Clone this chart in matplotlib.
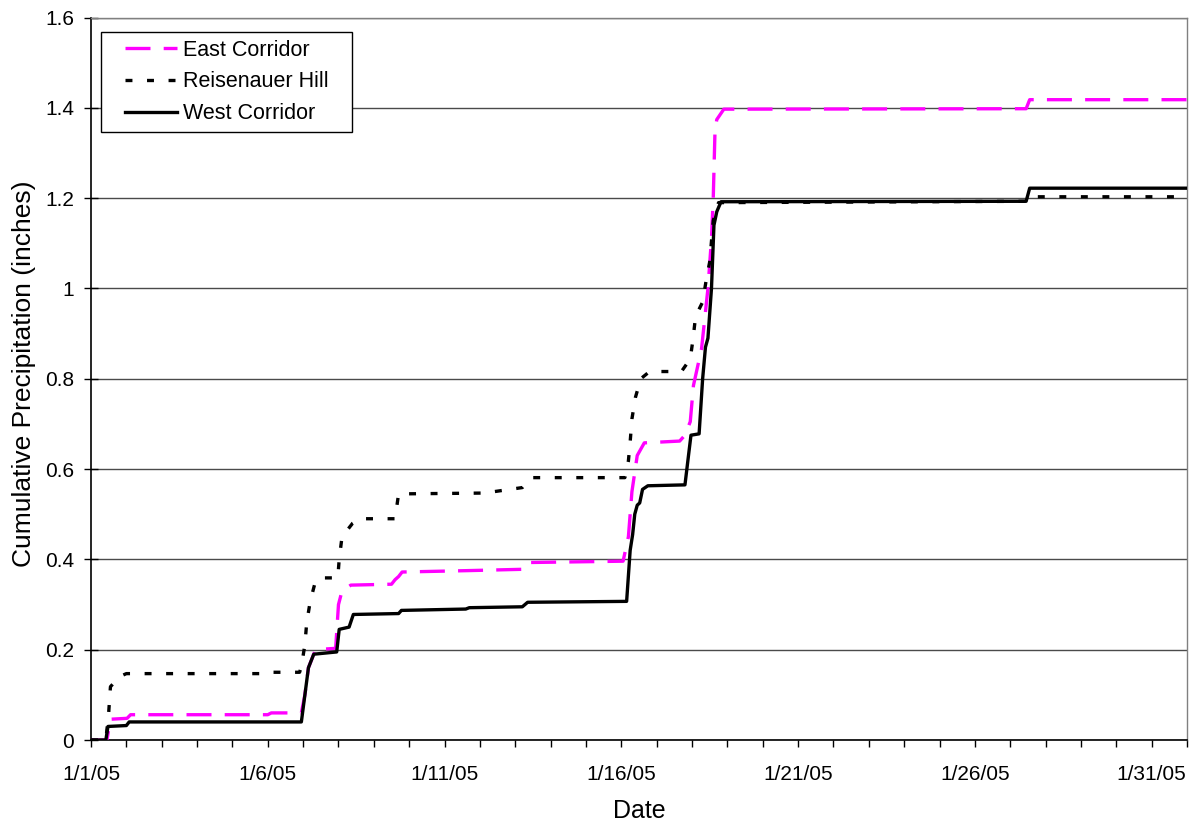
import matplotlib
matplotlib.use("Agg")
import matplotlib.pyplot as plt
import matplotlib.dates as mdates
from matplotlib.legend_handler import HandlerLine2D
import numpy as np
import pandas as pd

# Data: days elapsed since 2005-01-01 00:00, cumulative precipitation (inches)
west_days = [0, 0.42, 0.48, 1.0, 1.08, 5.95, 6.05, 6.15, 6.3, 6.95, 7.02, 7.3, 7.42,
             8.7, 8.78, 10.6, 10.7, 12.2, 12.35, 15.15, 15.25, 15.32, 15.38, 15.45,
             15.52, 15.6, 15.75, 16.8, 16.9, 16.97, 17.2, 17.3, 17.38, 17.45, 17.55,
             17.62, 17.7, 17.82, 26.45, 26.55, 31.0]
west_vals = [0, 0, 0.03, 0.032, 0.04, 0.04, 0.10, 0.16, 0.19, 0.195, 0.245, 0.25, 0.278,
             0.28, 0.287, 0.29, 0.293, 0.295, 0.305, 0.307, 0.42, 0.455, 0.50, 0.52,
             0.525, 0.555, 0.563, 0.565, 0.63, 0.675, 0.678, 0.80, 0.87, 0.89, 1.00,
             1.14, 1.17, 1.192, 1.193, 1.222, 1.222]

east_days = [0, 0.45, 0.55, 1.02, 1.12, 5.0, 5.1, 5.95, 6.05, 6.15, 6.35, 6.92, 7.0,
             7.1, 7.35, 8.5, 8.6, 8.7, 8.8, 10.6, 12.2, 12.35, 15.05, 15.2, 15.3, 15.45,
             15.65, 16.65, 16.8, 16.95, 17.04, 17.27, 17.45, 17.55, 17.6, 17.65, 17.7,
             17.9, 26.45, 26.55, 31.0]
east_vals = [0, 0, 0.046, 0.048, 0.056, 0.056, 0.06, 0.06, 0.10, 0.16, 0.20, 0.203, 0.30,
             0.33, 0.343, 0.345, 0.355, 0.362, 0.372, 0.375, 0.378, 0.393, 0.396, 0.45,
             0.55, 0.63, 0.658, 0.662, 0.675, 0.705, 0.785, 0.867, 1.00, 1.11, 1.20,
             1.35, 1.374, 1.397, 1.398, 1.418, 1.418]

reis_days = [0, 0.42, 0.5, 0.55, 0.8, 1.0, 4.95, 5.05, 5.9, 5.95, 6.05, 6.1, 6.2, 6.35,
             6.5, 6.98, 7.02, 7.1, 7.4, 7.6, 8.6, 8.7, 11.3, 11.4, 12.2, 12.45, 15.1,
             15.2, 15.25, 15.3, 15.4, 15.55, 15.8, 16.7, 16.95, 17.03, 17.1, 17.3, 17.4,
             17.5, 17.6, 17.75, 26.45, 26.55, 31.0]
reis_vals = [0, 0, 0.06, 0.118, 0.14, 0.147, 0.147, 0.15, 0.15, 0.163, 0.211, 0.259, 0.307,
             0.352, 0.359, 0.359, 0.40, 0.45, 0.48, 0.49, 0.49, 0.545, 0.547, 0.55, 0.559,
             0.581, 0.581, 0.618, 0.66, 0.711, 0.759, 0.80, 0.816, 0.816, 0.844, 0.889,
             0.938, 0.97, 1.018, 1.059, 1.15, 1.19, 1.193, 1.203, 1.203]

series_names = ["East Corridor", "Reisenauer Hill", "West Corridor"]
y_ticks = [0, 0.2, 0.4, 0.6, 0.8, 1.0, 1.2, 1.4, 1.6]
y_tick_labels = ["0", "0.2", "0.4", "0.6", "0.8", "1", "1.2", "1.4", "1.6"]
x_tick_labels = ["1/1/05", "1/6/05", "1/11/05", "1/16/05", "1/21/05", "1/26/05", "1/31/05"]

start = pd.Timestamp("2005-01-01")


def to_dates(days):
    return [start + pd.Timedelta(days=d) for d in days]


plt.rcParams['font.family'] = ['Liberation Sans', 'DejaVu Sans']
plt.rcParams['lines.scale_dashes'] = False

LEG_FS = 15.5
LINE_LEN = 2.41 * LEG_FS   # drawn handle length in points


class RightHandler(HandlerLine2D):
    """Draw the legend line only in the right part of the handle box."""
    def create_artists(self, legend, orig_handle, xdescent, ydescent, width,
                       height, fontsize, trans):
        arts = super().create_artists(legend, orig_handle, xdescent, ydescent,
                                      width, height, fontsize, trans)
        for a in arts:
            xd = np.asarray(a.get_xdata(), float)
            if len(xd) >= 2:
                a.set_xdata(np.linspace(xd[-1] - LINE_LEN, xd[-1], len(xd)))
        return arts


fig = plt.figure(figsize=(11.94, 8.25), dpi=100)
ax = fig.add_axes([91 / 1194, 1 - 740 / 825, (1187 - 91) / 1194, (740 - 17.5) / 825])

l1, = ax.plot(to_dates(east_days), east_vals, color="#FF00FF", lw=2.4,
              dashes=(18, 9.5), label=series_names[0], zorder=3)
l2, = ax.plot(to_dates(reis_days), reis_vals, color="black", lw=2.4,
              dashes=(5, 10.5), label=series_names[1], zorder=4)
l3, = ax.plot(to_dates(west_days), west_vals, color="black", lw=2.4,
              label=series_names[2], zorder=5, solid_joinstyle="round")

ax.set_xlim(start, start + pd.Timedelta(days=31))
ax.set_ylim(0, 1.6)

major = [start + pd.Timedelta(days=5 * i) for i in range(len(x_tick_labels))]
ax.set_xticks(major)
ax.set_xticklabels(x_tick_labels)
ax.xaxis.set_minor_locator(mdates.DayLocator())
ax.tick_params(axis='x', which='both', direction='out', length=5, width=1,
               labelsize=15, pad=13, color='black')

ax.set_yticks(y_ticks)
ax.set_yticklabels(y_tick_labels)
ax.tick_params(axis='y', direction='inout', length=10, width=1, labelsize=15, pad=7)

ax.grid(axis='y', color='#4a4a4a', lw=1)
ax.set_axisbelow(True)

for s in ['top', 'right']:
    ax.spines[s].set_color('#808080')
    ax.spines[s].set_linewidth(1)
for s in ['left', 'bottom']:
    ax.spines[s].set_color('black')
    ax.spines[s].set_linewidth(1.2)

ax.set_xlabel("Date", fontsize=18)
ax.xaxis.set_label_coords(0.5005, -0.0816)
ax.set_ylabel("Cumulative Precipitation (inches)", fontsize=19)
ax.yaxis.set_label_coords(-0.0500, 0.507)

x0 = (101 - 91) / 1096
w = (352 - 101) / 1096
y_top = (740 - 32) / 722.5
h = 98 / 722.5
leg = ax.legend(handles=[l1, l2, l3], loc='upper left', fontsize=LEG_FS,
                frameon=True, fancybox=False, edgecolor='black', framealpha=1,
                handlelength=3.18, handletextpad=0.3, labelspacing=0.5,
                borderaxespad=0.0, borderpad=0.35, mode='expand',
                bbox_to_anchor=(x0, y_top - h, w, h),
                handler_map={l1: RightHandler(), l2: RightHandler(), l3: RightHandler()})
leg.get_frame().set_linewidth(1)

fig.savefig("out.png", dpi=100)
